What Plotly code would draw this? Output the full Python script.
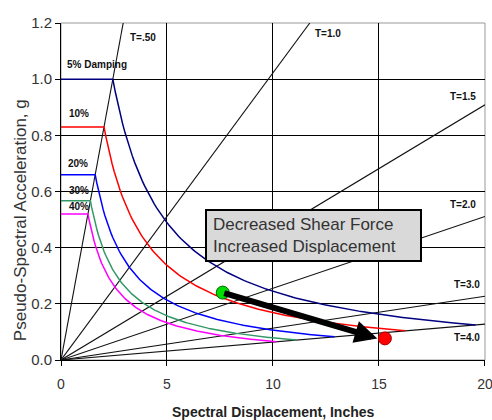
import numpy as np
import plotly.graph_objects as go

# ---------------- data ----------------
G_IN = 386.1                      # gravity, in/s^2
periods = [0.5, 1.0, 1.5, 2.0, 3.0, 4.0]
period_labels = ["T=.50", "T=1.0", "T=1.5", "T=2.0", "T=3.0", "T=4.0"]
period_label_pos = [(3.16, 1.150), (11.89, 1.164), (18.25, 0.940),
                    (18.25, 0.554), (18.44, 0.270), (18.44, 0.081)]

damping_labels = ["5% Damping", "10%", "20%", "30%", "40%"]
plateau_sa = [1.00, 0.83, 0.66, 0.567, 0.52]
damping_label_pos = [(0.19, 1.051), (0.28, 0.876), (0.24, 0.698),
                     (0.28, 0.603), (0.28, 0.546)]
damping_colors = ["#000080", "#ff0000", "#0000ff", "#339966", "#ff00ff"]
corner_period = 0.5
end_period = 4.0

point_before = (7.63, 0.240)
point_after = (15.28, 0.077)
arrow_tip = (14.92, 0.077)

x_ticks = [0, 5, 10, 15, 20]
y_ticks = [0.0, 0.2, 0.4, 0.6, 0.8, 1.0, 1.2]
x_range = [0, 20.002]
y_range = [0, 1.2]

FONT = "Arial, Liberation Sans, sans-serif"
k = G_IN / (4 * np.pi ** 2)

fig = go.Figure()

# radial period lines
for T in periods:
    slope = 1.0 / (k * T ** 2)          # Sa per inch of Sd
    sd_end = min(20.0, y_range[1] / slope)
    fig.add_trace(go.Scatter(x=[0, sd_end], y=[0, slope * sd_end], mode="lines",
                             line=dict(color="#111111", width=1.1),
                             hoverinfo="skip", showlegend=False))

# demand spectra
for sa0, col in zip(plateau_sa, damping_colors):
    sd_c = k * sa0 * corner_period ** 2
    C = sa0 * sd_c
    sd_end = np.sqrt(k * end_period ** 2 * C)
    sd_curve = np.linspace(sd_c, sd_end, 150)
    xs = np.concatenate([[0.0], sd_curve])
    ys = np.concatenate([[sa0], C / sd_curve])
    fig.add_trace(go.Scatter(x=xs, y=ys, mode="lines",
                             line=dict(color=col, width=1.5),
                             hoverinfo="skip", showlegend=False))

annotations = []
for txt, (x, y) in zip(period_labels, period_label_pos):
    annotations.append(dict(x=x, y=y, xref="x", yref="y", text=f"<b>{txt}</b>",
                            showarrow=False, xanchor="left", yanchor="middle",
                            font=dict(family=FONT, size=10, color="#111")))
for txt, (x, y) in zip(damping_labels, damping_label_pos):
    annotations.append(dict(x=x, y=y, xref="x", yref="y", text=f"<b>{txt}</b>",
                            showarrow=False, xanchor="left", yanchor="middle",
                            font=dict(family=FONT, size=10, color="#111")))

# arrow
annotations.append(dict(x=arrow_tip[0], y=arrow_tip[1], xref="x", yref="y",
                        ax=point_before[0], ay=point_before[1], axref="x", ayref="y",
                        text="", showarrow=True, arrowhead=2, arrowsize=0.75,
                        arrowwidth=6, arrowcolor="black", standoff=0, startstandoff=0))

# text box
annotations.append(dict(x=11.91, y=0.443, xref="x", yref="y",
                        text="Decreased Shear Force<br>Increased Displacement",
                        showarrow=False, xanchor="center", yanchor="middle",
                        align="left", width=201, height=37,
                        bgcolor="#d9d9d9", bordercolor="black", borderwidth=2, borderpad=6,
                        font=dict(family=FONT, size=17, color="#333")))

# axis titles
annotations.append(dict(x=-0.0967, y=0.415, xref="paper", yref="paper",
                        text="Pseudo-Spectral Acceleration, g", textangle=-90,
                        showarrow=False, xanchor="center", yanchor="middle",
                        font=dict(family=FONT, size=17, color="#333")))
annotations.append(dict(x=0.5, y=-0.1534, xref="paper", yref="paper",
                        text="<b>Spectral Displacement, Inches</b>",
                        showarrow=False, xanchor="center", yanchor="middle",
                        font=dict(family=FONT, size=14, color="#222")))

# points
fig.add_trace(go.Scatter(x=[point_before[0]], y=[point_before[1]], mode="markers",
                         marker=dict(size=13, color="#00dd00", line=dict(color="#006600", width=1)),
                         hoverinfo="skip", showlegend=False))
fig.add_trace(go.Scatter(x=[point_after[0]], y=[point_after[1]], mode="markers",
                         marker=dict(size=13, color="#ff0000", line=dict(color="#aa0000", width=1)),
                         hoverinfo="skip", showlegend=False))

fig.update_layout(
    width=492, height=420,
    margin=dict(l=61, r=7, t=23, b=60, autoexpand=False),
    paper_bgcolor="white", plot_bgcolor="white",
    annotations=annotations,
    shapes=[dict(type="rect", xref="paper", yref="paper", x0=0, y0=0, x1=1, y1=1,
                 line=dict(color="#999", width=1), layer="below")],
    xaxis=dict(range=x_range, tickvals=x_ticks, showgrid=True, gridcolor="black",
               gridwidth=1, zeroline=False, showline=True, linecolor="black", linewidth=1,
               ticks="outside", ticklen=5, tickcolor="black", ticklabelstandoff=6,
               ticklabeloverflow="allow", automargin=False,
               tickfont=dict(family=FONT, size=14, color="#333")),
    yaxis=dict(range=y_range, tickvals=y_ticks, tickformat=".1f", showgrid=True,
               gridcolor="black", gridwidth=1, zeroline=False, showline=True,
               linecolor="black", linewidth=1, ticks="outside", ticklen=5,
               automargin=False,
               tickcolor="black", tickfont=dict(family=FONT, size=15, color="#333")),
)

fig.write_html("out.html", config={"displayModeBar": False},
               post_script="document.body.style.margin='0';")
